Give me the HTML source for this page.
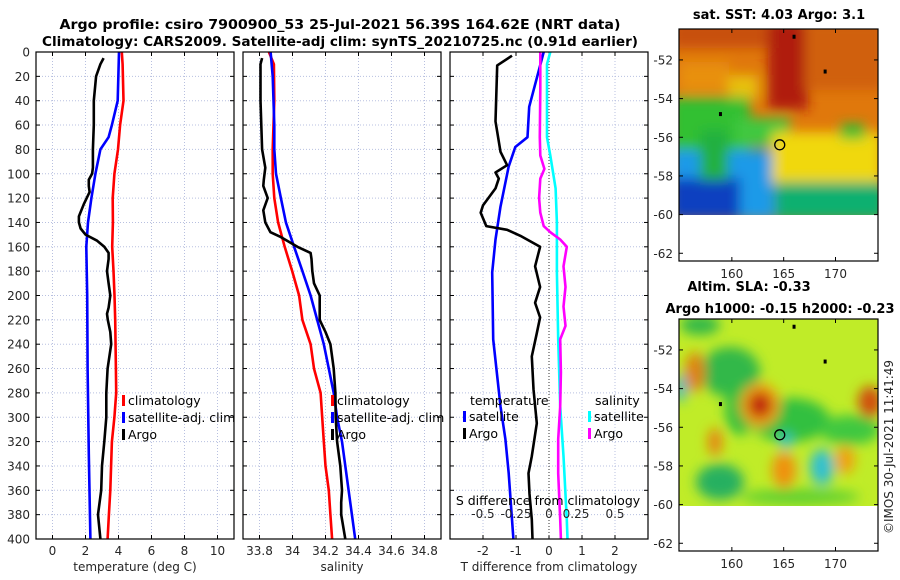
<!DOCTYPE html>
<html><head><meta charset="utf-8"><style>
html,body{margin:0;padding:0;background:#fff;}
svg{display:block;font-family:"DejaVu Sans","Liberation Sans",sans-serif;}
.tk{font-size:12px;fill:#262626;}
.tt{font-size:13px;font-weight:bold;fill:#000;}
.lg{font-size:12.5px;fill:#000;}
</style></head><body>
<svg id="fig" width="900" height="580" viewBox="0 0 900 580" xmlns="http://www.w3.org/2000/svg">
<defs>
<filter id="blur" x="-10%" y="-10%" width="120%" height="120%"><feGaussianBlur stdDeviation="6"/></filter>
<clipPath id="clipSST"><rect x="679" y="29" width="199" height="186"/></clipPath>
<clipPath id="clipSLA"><rect x="679" y="319" width="199" height="187"/></clipPath>
</defs>
<text class="tt" x="340" y="29" text-anchor="middle" textLength="561" lengthAdjust="spacingAndGlyphs">Argo profile: csiro 7900900_53 25-Jul-2021 56.39S 164.62E (NRT data)</text>
<text class="tt" x="340" y="46" text-anchor="middle" textLength="596" lengthAdjust="spacingAndGlyphs">Climatology: CARS2009. Satellite-adj clim: synTS_20210725.nc (0.91d earlier)</text>

<!-- SST map -->
<g>
<g clip-path="url(#clipSST)">
<rect x="679" y="29" width="199" height="186" fill="#e0780c"/>
<g filter="url(#blur)">
<rect x="670" y="20" width="100" height="28" fill="#c8500a"/>
<rect x="768" y="20" width="40" height="90" fill="#b01a0c"/>
<rect x="805" y="20" width="80" height="70" fill="#d06008"/>
<rect x="679" y="62" width="50" height="30" fill="#e89010"/>
<rect x="728" y="75" width="30" height="25" fill="#e8c010"/>
<rect x="670" y="97" width="80" height="55" fill="#30c030"/>
<rect x="735" y="118" width="55" height="28" fill="#40c840"/>
<rect x="670" y="150" width="105" height="70" fill="#1a9ae8"/>
<rect x="670" y="178" width="70" height="42" fill="#1040c0"/>
<rect x="700" y="130" width="28" height="50" fill="#20b040"/>
<rect x="772" y="132" width="110" height="52" fill="#f0d810"/>
<rect x="776" y="182" width="110" height="38" fill="#10b070"/>
<rect x="840" y="124" width="25" height="15" fill="#30c030"/>
</g>
</g>
</g>
<!-- SLA map -->
<g>
<g clip-path="url(#clipSLA)">
<rect x="679" y="319" width="199" height="187" fill="#c0ec28"/>
<g filter="url(#blur)">
<ellipse cx="730" cy="372" rx="30" ry="25" fill="#30b848"/>
<ellipse cx="700" cy="325" rx="20" ry="10" fill="#30b848"/>
<ellipse cx="740" cy="410" rx="15" ry="25" fill="#30c040"/>
<ellipse cx="720" cy="482" rx="24" ry="18" fill="#28b060"/>
<ellipse cx="790" cy="420" rx="40" ry="22" fill="#30c040"/>
<ellipse cx="850" cy="430" rx="30" ry="15" fill="#40c840"/>
<ellipse cx="800" cy="497" rx="60" ry="8" fill="#60d030"/>
<ellipse cx="695" cy="372" rx="10" ry="20" fill="#e08010"/>
<ellipse cx="681" cy="388" rx="5" ry="14" fill="#20b0e0"/>
<ellipse cx="760" cy="405" rx="20" ry="22" fill="#f0a010"/>
<ellipse cx="760" cy="405" rx="12" ry="13" fill="#c02008"/>
<ellipse cx="870" cy="402" rx="12" ry="16" fill="#d05010"/>
<ellipse cx="715" cy="442" rx="7" ry="14" fill="#e88010"/>
<ellipse cx="784" cy="470" rx="12" ry="18" fill="#f09010"/>
<ellipse cx="845" cy="460" rx="10" ry="14" fill="#f0a010"/>
<ellipse cx="822" cy="467" rx="12" ry="18" fill="#30c0d0"/>
<ellipse cx="786" cy="441" rx="6" ry="8" fill="#30c0d0"/>
</g>
</g>
</g>
<g id="plots"></g>
<text class="tk" transform="translate(893,447) rotate(-90)" text-anchor="middle">©IMOS 30-Jul-2021 11:41:49</text>
</svg>
<script>
const clDep=[0,10,40,60,80,100,120,140,160,180,200,220,260,280,300,320,340,360,380,400];
const tempClim=[4.2,4.25,4.3,4.1,3.97,3.75,3.65,3.66,3.62,3.7,3.76,3.8,3.84,3.86,3.75,3.6,3.55,3.5,3.42,3.34];
const bluDep=[0,40,60,70,80,100,120,140,160,200,260,330,400];
const tempSat=[4.03,3.95,3.6,3.4,2.9,2.6,2.36,2.15,2.05,2.1,2.13,2.2,2.3];
const argDep=[5,10,20,40,60,80,95,100,105,110,115,125,135,140,145,150,155,160,165,170,180,190,200,210,215,220,230,240,260,280,300,320,340,360,380,400];
const tempArgo=[3.1,2.9,2.64,2.5,2.5,2.45,2.45,2.4,2.2,2.2,2.25,1.9,1.6,1.6,1.7,2.0,2.7,3.14,3.4,3.4,3.3,3.4,3.5,3.4,3.3,3.35,3.5,3.56,3.34,3.26,3.26,3.14,3.0,2.95,2.76,2.9];
const salDep=[0,10,40,80,100,120,140,160,180,200,220,240,260,280,300,320,340,360,380,400];
const salClim=[33.857,33.887,33.89,33.88,33.88,33.89,33.913,33.953,33.998,34.04,34.06,34.11,34.13,34.17,34.18,34.19,34.2,34.22,34.23,34.24];
const salSatDep=[0,20,60,80,100,120,140,160,180,200,220,240,260,280,300,320,340,360,380,400];
const salSat=[33.867,33.88,33.89,33.89,33.9,33.93,33.96,34.01,34.06,34.11,34.15,34.19,34.22,34.25,34.27,34.3,34.32,34.34,34.36,34.38];
const salArgDep=[5,10,40,80,95,105,110,120,130,140,148,152,160,165,170,180,190,200,210,220,230,240,260,280,300,320,340,360,370,380,400];
const salArgo=[33.816,33.806,33.806,33.816,33.835,33.826,33.823,33.85,33.823,33.835,33.866,33.93,34.03,34.11,34.115,34.12,34.13,34.165,34.165,34.165,34.2,34.23,34.25,34.26,34.262,34.27,34.29,34.3,34.295,34.295,34.32];
const dTDep=[0,45,70,78,94,127,154,181,236,291,318,346,384,400];
const dTSat=[-0.16,-0.6,-0.65,-1.02,-1.22,-1.47,-1.62,-1.72,-1.69,-1.47,-1.32,-1.22,-1.12,-1.08];
const dTArgDep=[3,11,57,82,93,99,104,112,126,132,143,146,151,160,176,193,206,218,231,250,277,305,332,346,363,384,400];
const dTArgo=[-1.12,-1.57,-1.62,-1.47,-1.27,-1.62,-1.52,-1.62,-2.0,-2.07,-1.9,-1.27,-0.87,-0.27,-0.42,-0.27,-0.42,-0.27,-0.37,-0.52,-0.47,-0.37,-0.52,-0.62,-0.59,-0.52,-0.5];
const dSSatDep=[0,10,70,85,112,140,181,236,291,332,384,400];
const dSSat=[0.01,-0.015,-0.015,0.01,0.05,0.06,0.06,0.07,0.085,0.11,0.135,0.14];
const dSArgDep=[0,30,70,85,96,104,120,132,143,148,154,160,176,193,209,225,236,263,291,318,346,384,400];
const dSArgo=[-0.066,-0.066,-0.07,-0.066,-0.035,-0.066,-0.075,-0.066,-0.04,0.01,0.085,0.135,0.11,0.125,0.11,0.125,0.085,0.09,0.085,0.07,0.07,0.085,0.09];
const depthTicks=[0,20,40,60,80,100,120,140,160,180,200,220,240,260,280,300,320,340,360,380,400];
const tempTicks=[0,2,4,6,8,10];
const salTicks=[33.8,34,34.2,34.4,34.6,34.8];
const salTickLabels=["33.8","34","34.2","34.4","34.6","34.8"];
const dTTicks=[-2,-1,0,1,2];
const dSTicks=[-0.5,-0.25,0,0.25,0.5];
const latTicks=[-52,-54,-56,-58,-60,-62];
const lonTicks=[160,165,170];
const argoPos=[164.62,-56.39];
const otherFloatsLon=[166,169,158.9];
const otherFloatsLat=[-50.8,-52.6,-54.8];

const NS="http://www.w3.org/2000/svg";
const G=document.getElementById('plots');
function mk(tag,attrs,parent){const e=document.createElementNS(NS,tag);for(const k in attrs)e.setAttribute(k,attrs[k]);(parent||G).appendChild(e);return e;}
const Y0=52,Y1=539;
function yD(d){return Y0+(d/400)*(Y1-Y0);}
function lin(d0,d1,r0,r1){return v=>r0+(v-d0)/(d1-d0)*(r1-r0);}

function panel(name,x0,x1,xs,ticks,labels,xlabel){
  const g=mk('g',{});
  
  
  ticks.forEach(t=>{const x=xs(t);
    mk('line',{x1:x,x2:x,y1:Y0,y2:Y1,stroke:'#b8c0e0','stroke-dasharray':'1,2','stroke-width':1},g);
    mk('line',{x1:x,x2:x,y1:Y1,y2:Y1-4,stroke:'#000'},g);
    mk('line',{x1:x,x2:x,y1:Y0,y2:Y0+4,stroke:'#000'},g);
  });
  depthTicks.forEach(d=>{const y=yD(d);
    mk('line',{x1:x0,x2:x1,y1:y,y2:y,stroke:'#b8c0e0','stroke-dasharray':'1,2','stroke-width':1},g);
    mk('line',{x1:x0,x2:x0+4,y1:y,y2:y,stroke:'#000'},g);
    mk('line',{x1:x1,x2:x1-4,y1:y,y2:y,stroke:'#000'},g);
  });
  ticks.forEach((t,i)=>{const tx=mk('text',{x:xs(t),y:555,'text-anchor':'middle',class:'tk'},g);tx.textContent=labels[i];
    
    });
  const xl=mk('text',{x:(x0+x1)/2,y:571,'text-anchor':'middle',class:'tk'},g);xl.textContent=xlabel;
  
  
  return g;
}
function frame(g,x0,x1){mk('rect',{x:x0,y:Y0,width:x1-x0,height:Y1-Y0,fill:'none',stroke:'#000','stroke-width':1.2},g);}
function line(g,name,deps,vals,xs,color){
  const p=deps.map((d,i)=>(i?'L':'M')+xs(vals[i]).toFixed(1)+','+yD(d).toFixed(1)).join('');
  const e=mk('path',{d:p,fill:'none',stroke:color,'stroke-width':2.6,'stroke-linejoin':'round'},g);
  
  
}
function legend(g,x,y,items){
  items.forEach((it,i)=>{
    const yy=y+i*17;
    mk('rect',{x:x,y:yy-10,width:3,height:11,fill:it[1]},g);
    const t=mk('text',{x:x+6,y:yy,class:'lg'},g);t.textContent=it[0];
    
    
  });
}
const xT=lin(-1,11,36,234);
const p1=panel('temperature-panel',36,234,xT,tempTicks,tempTicks.map(String),'temperature (deg C)');
depthTicks.forEach(d=>{const t=mk('text',{x:30,y:yD(d)+4.5,'text-anchor':'end',class:'tk'},p1);t.textContent=d;
  
  });
line(p1,'temp-climatology-line',clDep,tempClim,xT,'#ff0000');
line(p1,'temp-satellite-line',bluDep,tempSat,xT,'#0000ff');
line(p1,'temp-argo-line',argDep,tempArgo,xT,'#000');
frame(p1,36,234);
legend(p1,122,405,[['climatology','#ff0000'],['satellite-adj. clim','#0000ff'],['Argo','#000']]);
const xS=lin(33.7,34.9,243,441);
const p2=panel('salinity-panel',243,441,xS,salTicks,salTickLabels,'salinity');
line(p2,'sal-climatology-line',salDep,salClim,xS,'#ff0000');
line(p2,'sal-satellite-line',salSatDep,salSat,xS,'#0000ff');
line(p2,'sal-argo-line',salArgDep,salArgo,xS,'#000');
frame(p2,243,441);
legend(p2,331,405,[['climatology','#ff0000'],['satellite-adj. clim','#0000ff'],['Argo','#000']]);
const xD=lin(-3,3,450,648);
const xDS=v=>xD(v*4);
const p3=panel('difference-panel',450,648,xD,dTTicks,dTTicks.map(String),'T difference from climatology');
mk('line',{x1:xD(0),x2:xD(0),y1:Y0,y2:Y1,stroke:'#555','stroke-dasharray':'1,2','stroke-width':1.2},p3);
line(p3,'tdiff-satellite-line',dTDep,dTSat,xD,'#0000ff');
line(p3,'tdiff-argo-line',dTArgDep,dTArgo,xD,'#000');
line(p3,'sdiff-satellite-line',dSSatDep,dSSat,xDS,'#00ffff');
line(p3,'sdiff-argo-line',dSArgDep,dSArgo,xDS,'#ff00ff');
frame(p3,450,648);
{const t=mk('text',{x:470,y:405,class:'lg'},p3);t.textContent='temperature';
 
 
 const t2=mk('text',{x:595,y:405,class:'lg'},p3);t2.textContent='salinity';
 
 }
legend(p3,463,421,[['satellite','#0000ff'],['Argo','#000']]);
legend(p3,588,421,[['satellite','#00ffff'],['Argo','#ff00ff']]);
{const t=mk('text',{x:548,y:505,'text-anchor':'middle',class:'lg'},p3);t.textContent='S difference from climatology';
 
 }
dSTicks.forEach(v=>{const t=mk('text',{x:xDS(v)+(v>0&&v<0.5?-6:0),y:518,'text-anchor':'middle',class:'tk'},p3);t.textContent=String(v);
 
 });

function mapAxes(name,top,bottom,latTop){
  const g=mk('g',{});
  
  
  const lx=lin(154.9,174.1,679,878);
  const ly=lin(latTop,latTop-12,top,bottom);
  mk('rect',{x:679,y:top,width:199,height:bottom-top,fill:'none',stroke:'#000','stroke-width':1.2},g);
  latTicks.forEach(l=>{const y=ly(l);
    mk('line',{x1:679,x2:683,y1:y,y2:y,stroke:'#000'},g);
    mk('line',{x1:878,x2:874,y1:y,y2:y,stroke:'#000'},g);
    const t=mk('text',{x:673,y:y+4.5,'text-anchor':'end',class:'tk'},g);t.textContent=l;
    
    });
  lonTicks.forEach(l=>{const x=lx(l);
    mk('line',{x1:x,x2:x,y1:bottom,y2:bottom-4,stroke:'#000'},g);
    mk('line',{x1:x,x2:x,y1:top,y2:top+4,stroke:'#000'},g);
    const t=mk('text',{x:x,y:bottom+17,'text-anchor':'middle',class:'tk'},g);t.textContent=l;
    
    });
  const c=mk('circle',{cx:lx(argoPos[0]),cy:ly(argoPos[1]),r:5,fill:'none',stroke:'#000','stroke-width':1.3},g);
  
  
  otherFloatsLon.forEach((lo,i)=>{const m=mk('rect',{x:lx(lo)-1.5,y:ly(otherFloatsLat[i])-2,width:3,height:4,fill:'#000'},g);
    
    });
  return g;
}
mapAxes('sst-map-axes',29,261,-50.4);
mapAxes('sla-map-axes',319,551,-50.4);
[['sst-map-title','sat. SST: 4.03 Argo: 3.1',779,19],['sla-map-title','Altim. SLA: -0.33',749,291],['sla-map-subtitle','Argo h1000: -0.15 h2000: -0.23',780,313]].forEach(a=>{
  const t=mk('text',{x:a[2],y:a[3],'text-anchor':'middle',class:'tt'});t.textContent=a[1];
  
  
});
</script>
</body></html>
